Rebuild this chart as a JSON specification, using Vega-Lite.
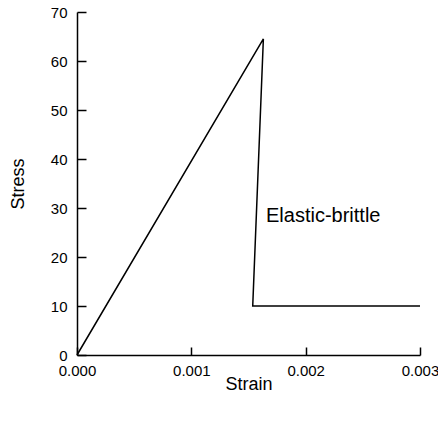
{
  "$schema": "https://vega.github.io/schema/vega-lite/v6.json",
  "width": 343,
  "height": 343,
  "autosize": "none",
  "padding": {"left": 77, "top": 12, "right": 18, "bottom": 66},
  "config": {
    "view": {"stroke": null},
    "font": "Liberation Sans",
    "axis": {
      "grid": false,
      "domainColor": "black",
      "tickColor": "black",
      "labelColor": "black",
      "titleColor": "black",
      "labelFont": "Liberation Sans",
      "titleFont": "Liberation Sans",
      "labelFontSize": 15,
      "titleFontSize": 18,
      "titleFontWeight": "normal",
      "domainWidth": 1.5,
      "tickWidth": 1.5
    }
  },
  "datasets": {
    "curve": [
      {"i": 0, "strain": 0.0, "stress": 0.0},
      {"i": 1, "strain": 0.00163, "stress": 64.5},
      {"i": 2, "strain": 0.001537, "stress": 10.0},
      {"i": 3, "strain": 0.003, "stress": 10.0}
    ],
    "labels": [
      {"strain": 0.001653, "stress": 27.2, "text": "Elastic-brittle"}
    ]
  },
  "layer": [
    {
      "data": {"name": "curve"},
      "mark": {"type": "line", "color": "black", "strokeWidth": 1.5},
      "encoding": {
        "x": {
          "field": "strain", "type": "quantitative",
          "scale": {"domain": [0, 0.003], "nice": false},
          "axis": {
            "title": "Strain",
            "values": [0, 0.001, 0.002, 0.003],
            "format": ".3f",
            "tickSize": -8,
            "labelPadding": 16,
            "labelFlush": false,
            "titleX": 171.5,
            "titleY": 34,
            "titleBaseline": "alphabetic"
          }
        },
        "y": {
          "field": "stress", "type": "quantitative",
          "scale": {"domain": [0, 70], "nice": false},
          "axis": {
            "title": "Stress",
            "values": [0, 10, 20, 30, 40, 50, 60, 70],
            "tickSize": -9,
            "labelPadding": 19,
            "labelFlush": false,
            "titleX": -54,
            "titleY": 171.5,
            "titleBaseline": "alphabetic",
            "titleAngle": -90
          }
        },
        "order": {"field": "i", "type": "quantitative"}
      }
    },
    {
      "data": {"name": "labels"},
      "mark": {"type": "text", "align": "left", "baseline": "alphabetic", "fontSize": 20, "font": "Liberation Sans", "color": "black"},
      "encoding": {
        "x": {"field": "strain", "type": "quantitative"},
        "y": {"field": "stress", "type": "quantitative"},
        "text": {"field": "text"}
      }
    }
  ]
}
